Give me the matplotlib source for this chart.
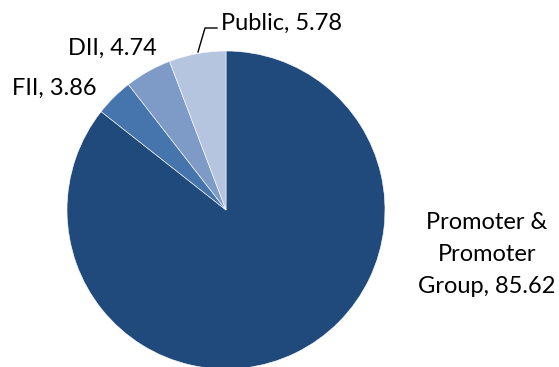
import matplotlib
matplotlib.use("Agg")
import matplotlib.pyplot as plt

W, H = 559, 367
plt.rcParams["font.family"] = ["Lato", "DejaVu Sans"]

labels = ["Promoter &\nPromoter\nGroup", "FII", "DII", "Public"]
values = [85.62, 3.86, 4.74, 5.78]
colors = ["#214A7C", "#4674AD", "#7E9BC8", "#B5C4DF"]

fig = plt.figure(figsize=(W / 100, H / 100), dpi=100)
fig.patch.set_facecolor("white")

# pie centre (226, 210) px, radius 159 px
cx, cy, r = 226, 210, 159
ax = fig.add_axes([(cx - r) / W, (H - cy - r) / H, 2 * r / W, 2 * r / H])
ax.pie(values, colors=colors, startangle=90, counterclock=False, radius=1,
       wedgeprops=dict(edgecolor="white", linewidth=0.4))
ax.set_xlim(-1, 1); ax.set_ylim(-1, 1); ax.set_aspect("auto"); ax.axis("off")


def px(x, y):
    return x / W, 1 - y / H


def label(i, x, y, ha="left"):
    fig.text(*px(x, y), f"{labels[i]}, {values[i]:.2f}", fontsize=17, ha=ha,
             va="baseline", color="#000000")


label(3, 221, 30)
label(2, 68, 55)
label(1, 12, 95)
fig.text(*px(487, 212), f"{labels[0]}, {values[0]:.2f}",
         fontsize=17, ha="center", va="top", color="#000000", linespacing=1.65)

# leader line for Public
pts = [px(198, 52), px(205, 28), px(217, 28)]
fig.add_artist(plt.Line2D([p[0] for p in pts], [p[1] for p in pts],
                          color="black", lw=1.0, transform=fig.transFigure))

fig.savefig("out.png", dpi=100, facecolor="white")
